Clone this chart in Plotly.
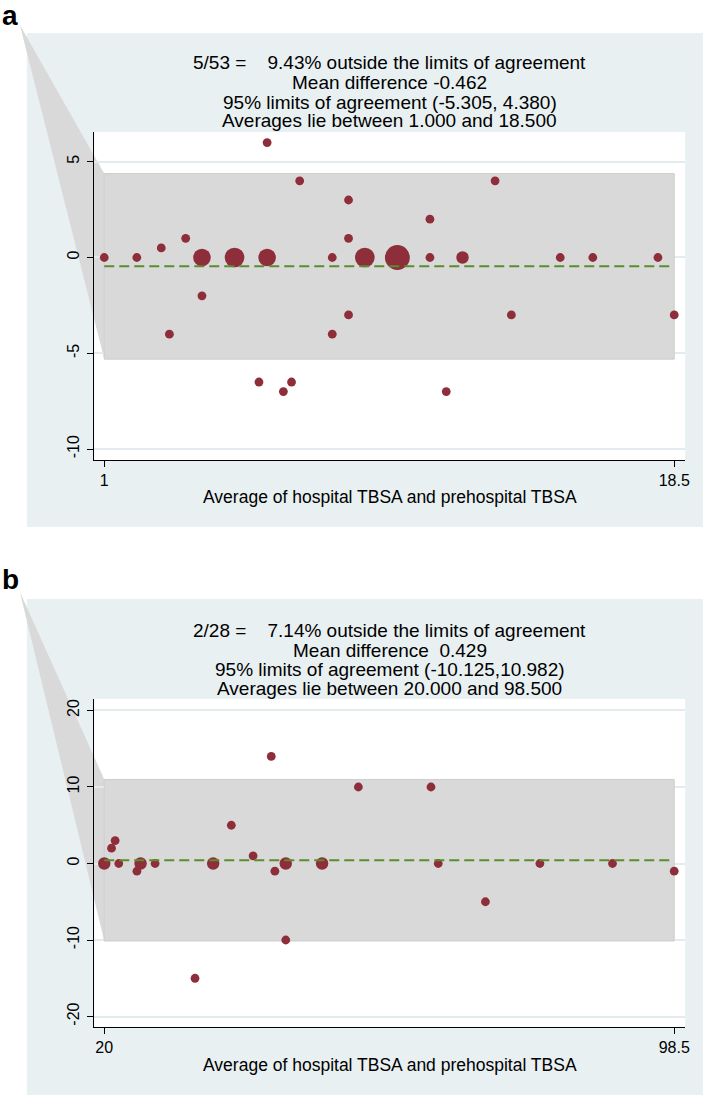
import plotly.graph_objects as go
import numpy as np

W, H = 708, 1095

# ---------------- Panel a data ----------------
a_x = [1, 2, 2.75, 3.5, 3, 4, 4, 5, 6, 6, 5.75, 6.5, 6.75, 7, 8, 8, 8.5, 8.5, 8.5,
       9, 10, 11, 11, 12, 11.5, 13, 13.5, 15, 16, 18, 18.5]
a_y = [0, 0, 0.5, 1, -4, 0, -2, 0, 0, 6, -6.5, -7, -6.5, 4, 0, -4, 3, 1, -3,
       0, 0, 2, 0, 0, -7, 4, -3, 0, 0, 0, -3]
a_w = [1, 1, 1, 1, 1, 4, 1, 5, 4, 1, 1, 1, 1, 1, 1, 1, 1, 1, 1,
       5, 8, 1, 1, 2, 1, 1, 1, 1, 1, 1, 1]
a_mean, a_lo, a_hi = -0.462, -5.305, 4.380
a_xmin, a_xmax = 1.0, 18.5
a_apex = (-1.59, 12.13)   # stray vertex of the shaded area in the original
a_title = ["5/53 =\u00a0\u00a0\u00a0 9.43% outside the limits of agreement",
           "Mean difference -0.462",
           "95% limits of agreement (-5.305, 4.380)",
           "Averages lie between 1.000 and 18.500"]
a_yticks = [-10, -5, 0, 5]
a_yticklabels = ["-10", "-5", "0", "5"]
a_xticks = [1, 18.5]
a_xticklabels = ["1", "18.5"]

# ---------------- Panel b data ----------------
b_x = [20, 21, 21.5, 22, 24.5, 25, 27, 32.5, 35, 37.5, 40.5, 43, 43.5, 45, 45,
       50, 55, 65, 66, 72.5, 80, 90, 98.5]
b_y = [0, 2, 3, 0, -1, 0, 0, -15, 0, 5, 1, 14, -1, 0, -10,
       0, 10, 10, 0, -5, 0, 0, -1]
b_w = [2, 1, 1, 1, 1, 2, 1, 1, 2, 1, 1, 1, 1, 2, 1,
       2, 1, 1, 1, 1, 1, 1, 1]
b_mean, b_lo, b_hi = 0.429, -10.125, 10.982
b_xmin, b_xmax = 20.0, 98.5
b_apex = (8.38, 35.5)
b_title = ["2/28 =\u00a0\u00a0\u00a0 7.14% outside the limits of agreement",
           "Mean difference\u00a0 0.429",
           "95% limits of agreement (-10.125,10.982)",
           "Averages lie between 20.000 and 98.500"]
b_yticks = [-20, -10, 0, 10, 20]
b_yticklabels = ["-20", "-10", "0", "10", "20"]
b_xticks = [20, 98.5]
b_xticklabels = ["20", "98.5"]

xtitle = "Average of hospital TBSA and prehospital TBSA"

# ---------------- styling ----------------
BG = "#e8f0f2"
GRID = "#e3ebee"
BAND = "#d9d9d9"
BAND_LINE = "#cdcdcd"
DOT = "#8e2e3a"
MEAN = "#5b8c2e"
FONT = "Liberation Sans, Arial, sans-serif"

def py(p):  # pixel y -> paper
    return 1 - p / H

def px(p):
    return p / W

xdom = [px(95), px(690)]
a_ydom = [py(460), py(132)]
b_ydom = [py(1026.7), py(699)]
a_xr = [0.695, 18.835]
a_yr = [-10.57, 6.55]
b_xr = [18.632, 100.004]
b_yr = [-21.33, 21.5]

def to_paper(v, rng, dom):
    return dom[0] + (v - rng[0]) / (rng[1] - rng[0]) * (dom[1] - dom[0])

fig = go.Figure()
shapes = []
annotations = []

panels = [
    dict(x=a_x, y=a_y, w=a_w, mean=a_mean, lo=a_lo, hi=a_hi, xmin=a_xmin, xmax=a_xmax,
         apex=a_apex, title=a_title, yt=a_yticks, ytl=a_yticklabels, xt=a_xticks,
         xtl=a_xticklabels, ydom=a_ydom, xr=a_xr, yr=a_yr, xa="x", ya="y",
         bg=(33, 527), tlines=(63, 82.5, 102, 120.5), xtitle_y=497, letter="a", letter_y=15),
    dict(x=b_x, y=b_y, w=b_w, mean=b_mean, lo=b_lo, hi=b_hi, xmin=b_xmin, xmax=b_xmax,
         apex=b_apex, title=b_title, yt=b_yticks, ytl=b_yticklabels, xt=b_xticks,
         xtl=b_xticklabels, ydom=b_ydom, xr=b_xr, yr=b_yr, xa="x2", ya="y2",
         bg=(599, 1095), tlines=(630.5, 650, 669.5, 688), xtitle_y=1065, letter="b", letter_y=579),
]

for i, P in enumerate(panels):
    # graph region background
    shapes.append(dict(type="rect", xref="paper", yref="paper", x0=px(27), x1=1,
                       y0=py(P["bg"][1]), y1=py(P["bg"][0]), fillcolor=BG,
                       line=dict(width=0), layer="below"))
    # plot region
    shapes.append(dict(type="rect", xref="paper", yref="paper", x0=xdom[0], x1=xdom[1],
                       y0=P["ydom"][0], y1=P["ydom"][1], fillcolor="white",
                       line=dict(width=0), layer="below"))
    # stray polygon of the shaded area
    ax_, ay_ = P["apex"]
    X0 = to_paper(ax_, P["xr"], xdom)
    Y0 = to_paper(ay_, P["yr"], P["ydom"])
    X1 = to_paper(P["xmin"], P["xr"], xdom)
    Yh = to_paper(P["hi"], P["yr"], P["ydom"])
    Yl = to_paper(P["lo"], P["yr"], P["ydom"])
    shapes.append(dict(type="path", xref="paper", yref="paper",
                       path=f"M {X0},{Y0} L {X1},{Yh} L {X1},{Yl} Z",
                       fillcolor=BAND, line=dict(width=0), layer="below"))

    # band of limits of agreement
    fig.add_trace(go.Scatter(
        x=[P["xmin"], P["xmax"], P["xmax"], P["xmin"], P["xmin"]],
        y=[P["lo"], P["lo"], P["hi"], P["hi"], P["lo"]],
        fill="toself", fillcolor=BAND, mode="lines",
        line=dict(color=BAND_LINE, width=1), hoverinfo="skip",
        xaxis=P["xa"], yaxis=P["ya"], showlegend=False))
    # points (marker area ~ weight)
    fig.add_trace(go.Scatter(
        x=P["x"], y=P["y"], mode="markers",
        marker=dict(color=DOT, size=[8.8 * np.sqrt(w) for w in P["w"]], line=dict(width=0),
                    opacity=1),
        xaxis=P["xa"], yaxis=P["ya"], showlegend=False, cliponaxis=False))
    # mean difference
    fig.add_trace(go.Scatter(
        x=[P["xmin"], P["xmax"]], y=[P["mean"], P["mean"]], mode="lines",
        line=dict(color=MEAN, width=2, dash="10px,5px"),
        xaxis=P["xa"], yaxis=P["ya"], showlegend=False, hoverinfo="skip"))

    cx = (xdom[0] + xdom[1]) / 2
    for line, yy in zip(P["title"], P["tlines"]):
        annotations.append(dict(text=line, x=cx, y=py(yy), xref="paper", yref="paper",
                                xanchor="center", yanchor="middle", showarrow=False,
                                font=dict(size=19, color="black", family=FONT)))
    annotations.append(dict(text=xtitle, x=cx, y=py(P["xtitle_y"]), xref="paper",
                            yref="paper", xanchor="center", yanchor="middle",
                            showarrow=False,
                            font=dict(size=17.5, color="black", family=FONT)))
    annotations.append(dict(text="<b>" + P["letter"] + "</b>", x=0, y=py(P["letter_y"]),
                            xref="paper", yref="paper", xanchor="left", yanchor="middle",
                            showarrow=False,
                            font=dict(size=28, color="black", family=FONT)))

axis_common = dict(showline=True, linecolor="black", linewidth=1, ticks="outside",
                   ticklen=6, tickcolor="black", tickwidth=1, zeroline=False,
                   tickfont=dict(size=16, color="black", family=FONT), mirror=False)

fig.update_layout(
    width=W, height=H, margin=dict(l=0, r=0, t=0, b=0),
    paper_bgcolor="white", plot_bgcolor="rgba(0,0,0,0)",
    shapes=shapes, annotations=annotations, showlegend=False,
    xaxis=dict(domain=xdom, range=a_xr, anchor="y", tickvals=a_xticks,
               ticktext=a_xticklabels, showgrid=False, **axis_common),
    yaxis=dict(domain=a_ydom, range=a_yr, anchor="x", tickvals=a_yticks,
               ticktext=a_yticklabels, tickangle=-90, showgrid=True, gridcolor=GRID,
               gridwidth=1.5, ticklabelstandoff=2, **axis_common),
    xaxis2=dict(domain=xdom, range=b_xr, anchor="y2", tickvals=b_xticks,
                ticktext=b_xticklabels, showgrid=False, **axis_common),
    yaxis2=dict(domain=b_ydom, range=b_yr, anchor="x2", tickvals=b_yticks,
                ticktext=b_yticklabels, tickangle=-90, showgrid=True, gridcolor=GRID,
                gridwidth=1.5, ticklabelstandoff=2, **axis_common),
)

fig.write_html("out.html", config={"displayModeBar": False},
               post_script="document.body.style.margin='0px';")
